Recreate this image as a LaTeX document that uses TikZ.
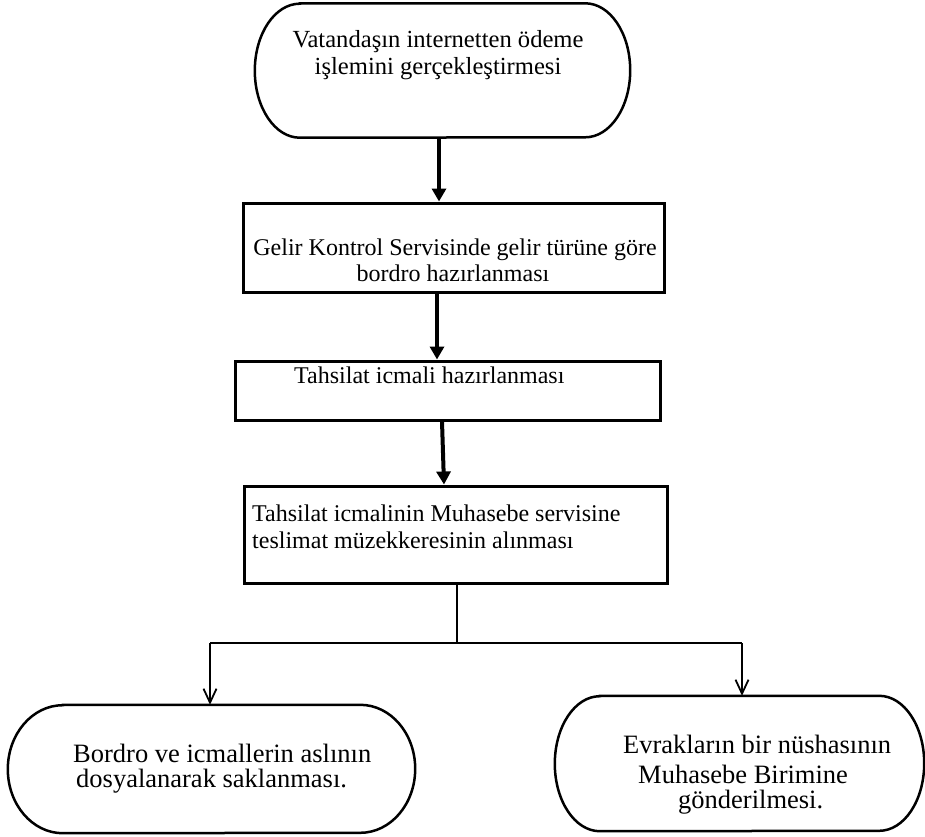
\documentclass[tikz,border=0pt]{standalone}
\usepackage{fontspec}
\setmainfont{Liberation Serif}
\usetikzlibrary{arrows.meta,calc}
\newcommand\stadiumoutline[3]{%
  \draw[line width=2.5pt] ([xshift=#2pt]#1.north west) -- ([xshift=-#2pt]#1.north east)
    arc[start angle=90,end angle=-90,x radius=#2pt,y radius=#3pt]
    -- ([xshift=#2pt]#1.south west)
    arc[start angle=270,end angle=90,x radius=#2pt,y radius=#3pt] -- cycle;}
\begin{document}
\begin{tikzpicture}[x=1pt,y=-1pt,
  stad/.style={inner sep=0pt},
  boxs/.style={draw,line width=3pt,inner sep=0pt},
  txt/.style={inner sep=0pt,font=\fontsize{24}{28}\selectfont},
  txttop/.style={inner sep=0pt,font=\fontsize{24.6}{28}\selectfont},
  txtbig/.style={inner sep=0pt,font=\fontsize{26.5}{30}\selectfont},
  tarr/.style={line width=4pt,-{Triangle[width=14pt,length=13pt]}},
  oarr/.style={line width=1.8pt,-{Straight Barb[width=13pt,length=14pt,line width=1.8pt]}},
  tline/.style={line width=2pt}]
\useasboundingbox (0,0) rectangle (925,836);

% shapes
\node[stad, minimum width=375pt, minimum height=134pt] (n1) at (442.5,70.5) {};
\node[boxs, minimum width=421pt, minimum height=89pt] (n2) at (453.5,247.5) {};
\node[boxs, minimum width=425pt, minimum height=59pt] (n3) at (447.5,390.5) {};
\node[boxs, minimum width=423pt, minimum height=97pt] (n4) at (455.5,534.5) {};
\node[stad, minimum width=407pt, minimum height=128pt] (n5) at (211.5,769) {};
\node[stad, minimum width=369pt, minimum height=135pt] (n6) at (739.5,763.5) {};
\stadiumoutline{n1}{45}{67}
\stadiumoutline{n5}{55}{64}
\stadiumoutline{n6}{45}{67.5}

% texts
\node[txttop,anchor=base] (t1a) at (438,47) {Vatandaşın internetten ödeme};
\node[txttop,anchor=base] (t1b) at (438,74) {işlemini gerçekleştirmesi};
\node[txt,anchor=base] (t2a) at (455,255) {Gelir Kontrol Servisinde gelir türüne göre};
\node[txt,anchor=base] (t2b) at (453,281) {bordro hazırlanması};
\node[txt,anchor=base west] (t3) at (294,383) {Tahsilat icmali hazırlanması};
\node[txt,anchor=base west] (t4a) at (252,521) {Tahsilat icmalinin Muhasebe servisine};
\node[txt,anchor=base west] (t4b) at (252,548) {teslimat müzekkeresinin alınması};
\node[txtbig,anchor=base west] (t5a) at (73,762) {Bordro ve icmallerin aslının};
\node[txtbig,anchor=base west] (t5b) at (76,787) {dosyalanarak saklanması.};
\node[txtbig,anchor=base west] (t6a) at (623,753) {Evrakların bir nüshasının};
\node[txtbig,anchor=base west] (t6b) at (638,783) {Muhasebe Birimine};
\node[txtbig,anchor=base west] (t6c) at (678,808) {gönderilmesi.};

% connectors
\draw[tarr] ([xshift=-3.5pt]n1.south) -- ([xshift=-3.5pt]n1.south |- n2.north);
\draw[tarr] ([xshift=-16.5pt]n2.south) -- ([xshift=-16.5pt]n2.south |- n3.north);
\draw[tarr] ([xshift=-5.5pt]n3.south) -- ([xshift=-11.5pt]n4.north);

\coordinate (j) at (457,643);
\coordinate (jl) at (210,643);
\coordinate (jr) at (742,643);
\draw[tline] ([xshift=1.5pt]n4.south) -- (j);
\draw[tline] (jl) -- (jr);
\draw[oarr] (jl) -- (jl |- n5.north);
\draw[oarr] (jr) -- (jr |- n6.north);
\end{tikzpicture}
\end{document}
